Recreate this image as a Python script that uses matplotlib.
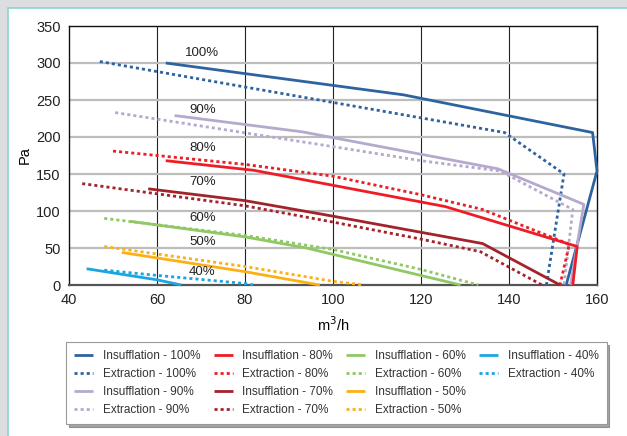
import matplotlib
matplotlib.use('Agg')
import matplotlib.pyplot as plt
from matplotlib.patches import Rectangle
from matplotlib.lines import Line2D

plt.rcParams['font.family'] = ['Liberation Sans', 'DejaVu Sans']

# flow (m3/h) / pressure (Pa)
ins100_x = [62, 116, 159, 160, 153]
ins100_y = [300, 257, 206, 154, 0]
ext100_x = [47, 139, 152.5, 148.5]
ext100_y = [302, 206, 150, 0]
ins90_x = [64, 93, 137.5, 157, 154]
ins90_y = [229, 207, 157, 109, 0]
ext90_x = [50.5, 100, 120, 138, 154.5, 152.5]
ext90_y = [233, 187, 168, 154, 102, 0]
ins80_x = [62, 82, 125.5, 155.5, 154.5]
ins80_y = [168, 155, 106, 52, 0]
ext80_x = [50, 80, 100, 120, 134, 153.7, 151.6]
ext80_y = [181, 163, 147, 122, 102, 55, 0]
ins70_x = [58, 80, 100, 134, 151.6]
ins70_y = [130, 114, 93, 56, 0]
ext70_x = [43, 80, 100, 120, 133.5, 147.5]
ext70_y = [137, 107, 85, 62, 45, 0]
ins60_x = [54, 80, 94, 129]
ins60_y = [86, 65, 50, 0]
ext60_x = [48, 80, 100, 120, 133]
ext60_y = [90, 67, 48, 21, 0]
ins50_x = [52, 80, 97]
ins50_y = [44, 18, 0]
ext50_x = [48, 80, 100, 107]
ext50_y = [52, 25, 5, 0]
ins40_x = [44, 60, 65.5]
ins40_y = [22, 7, 0]
ext40_x = [48, 60, 80, 82]
ext40_y = [20, 13, 2, 0]

pct_labels = ['100%', '90%', '80%', '70%', '60%', '50%', '40%']
pct_label_y = [313, 236, 185, 139, 91, 58, 18]

c100, c90, c80, c70 = '#2e63a0', '#b5aacd', '#ee1c25', '#a3232b'
c60, c50, c40 = '#8fc865', '#fbb116', '#1ba6e2'

fig = plt.figure(figsize=(6.27, 4.36), dpi=100)
fig.patch.set_facecolor('#dcdddf')
fig.patches.append(Rectangle((8 / 627, -0.1), 1.0, (436 - 8) / 436 + 0.1,
                             transform=fig.transFigure, facecolor='white',
                             edgecolor='#86d3d3', linewidth=1.2, zorder=-5))

ax = fig.add_axes([69 / 627, 151 / 436, 528 / 627, 259 / 436])
ax.set_facecolor('white')

dot = (0, (1.1, 1.1))
series = [
    (ins100_x, ins100_y, c100, '-', 'Insufflation - 100%'),
    (ext100_x, ext100_y, c100, dot, 'Extraction - 100%'),
    (ins90_x, ins90_y, c90, '-', 'Insufflation - 90%'),
    (ext90_x, ext90_y, c90, dot, 'Extraction - 90%'),
    (ins80_x, ins80_y, c80, '-', 'Insufflation - 80%'),
    (ext80_x, ext80_y, c80, dot, 'Extraction - 80%'),
    (ins70_x, ins70_y, c70, '-', 'Insufflation - 70%'),
    (ext70_x, ext70_y, c70, dot, 'Extraction - 70%'),
    (ins60_x, ins60_y, c60, '-', 'Insufflation - 60%'),
    (ext60_x, ext60_y, c60, dot, 'Extraction - 60%'),
    (ins50_x, ins50_y, c50, '-', 'Insufflation - 50%'),
    (ext50_x, ext50_y, c50, dot, 'Extraction - 50%'),
    (ins40_x, ins40_y, c40, '-', 'Insufflation - 40%'),
    (ext40_x, ext40_y, c40, dot, 'Extraction - 40%'),
]
handles = []
for xs, ys, col, ls, lab in series:
    ln, = ax.plot(xs, ys, color=col, linestyle=ls, linewidth=2.0,
                  solid_capstyle='butt', dash_capstyle='butt', label=lab,
                  clip_on=False, zorder=3)
    handles.append(ln)

for lab, yy in zip(pct_labels, pct_label_y):
    ax.text(70.3, yy, lab, ha='center', va='center', fontsize=9.5, color='#222222')

ax.set_xlim(40, 160)
ax.set_ylim(0, 350)
ax.set_xticks(range(40, 161, 20))
ax.set_yticks(range(0, 351, 50))
for xv in range(60, 160, 20):
    ax.axvline(xv, color='#222222', linewidth=0.8, zorder=1)
for yv in range(50, 350, 50):
    ax.axhline(yv, color='#bdbdbd', linewidth=1.6, zorder=1)
for s in ['top', 'right', 'left']:
    ax.spines[s].set_color('#111111')
    ax.spines[s].set_linewidth(1.0)
ax.spines['bottom'].set_color('#555555')
ax.spines['bottom'].set_linewidth(1.6)
ax.tick_params(length=0, labelsize=10.5, colors='#222222', pad=6)
ax.set_xlabel('m$^3$/h', fontsize=10.5, labelpad=6)
ax.set_ylabel('Pa', fontsize=10.5, labelpad=3)

# pad the last column so it fills 4/4/4/2 like the original
blank = Line2D([], [], color='none')
leg_handles = handles + [blank, blank]
leg_labels = [h.get_label() for h in handles] + ['', '']
leg = fig.legend(leg_handles, leg_labels, ncol=4, loc='upper left',
                 bbox_to_anchor=(66 / 627, 94 / 436),
                 fontsize=8.5, frameon=True, fancybox=False,
                 shadow=True, handlelength=1.6, handletextpad=0.8,
                 labelspacing=0.5, borderpad=0.7, borderaxespad=0,
                 columnspacing=1.15, labelcolor='#333333')
leg.get_frame().set_edgecolor('#999999')
leg.get_frame().set_linewidth(0.8)

fig.savefig('out.png', dpi=100, facecolor=fig.get_facecolor())
